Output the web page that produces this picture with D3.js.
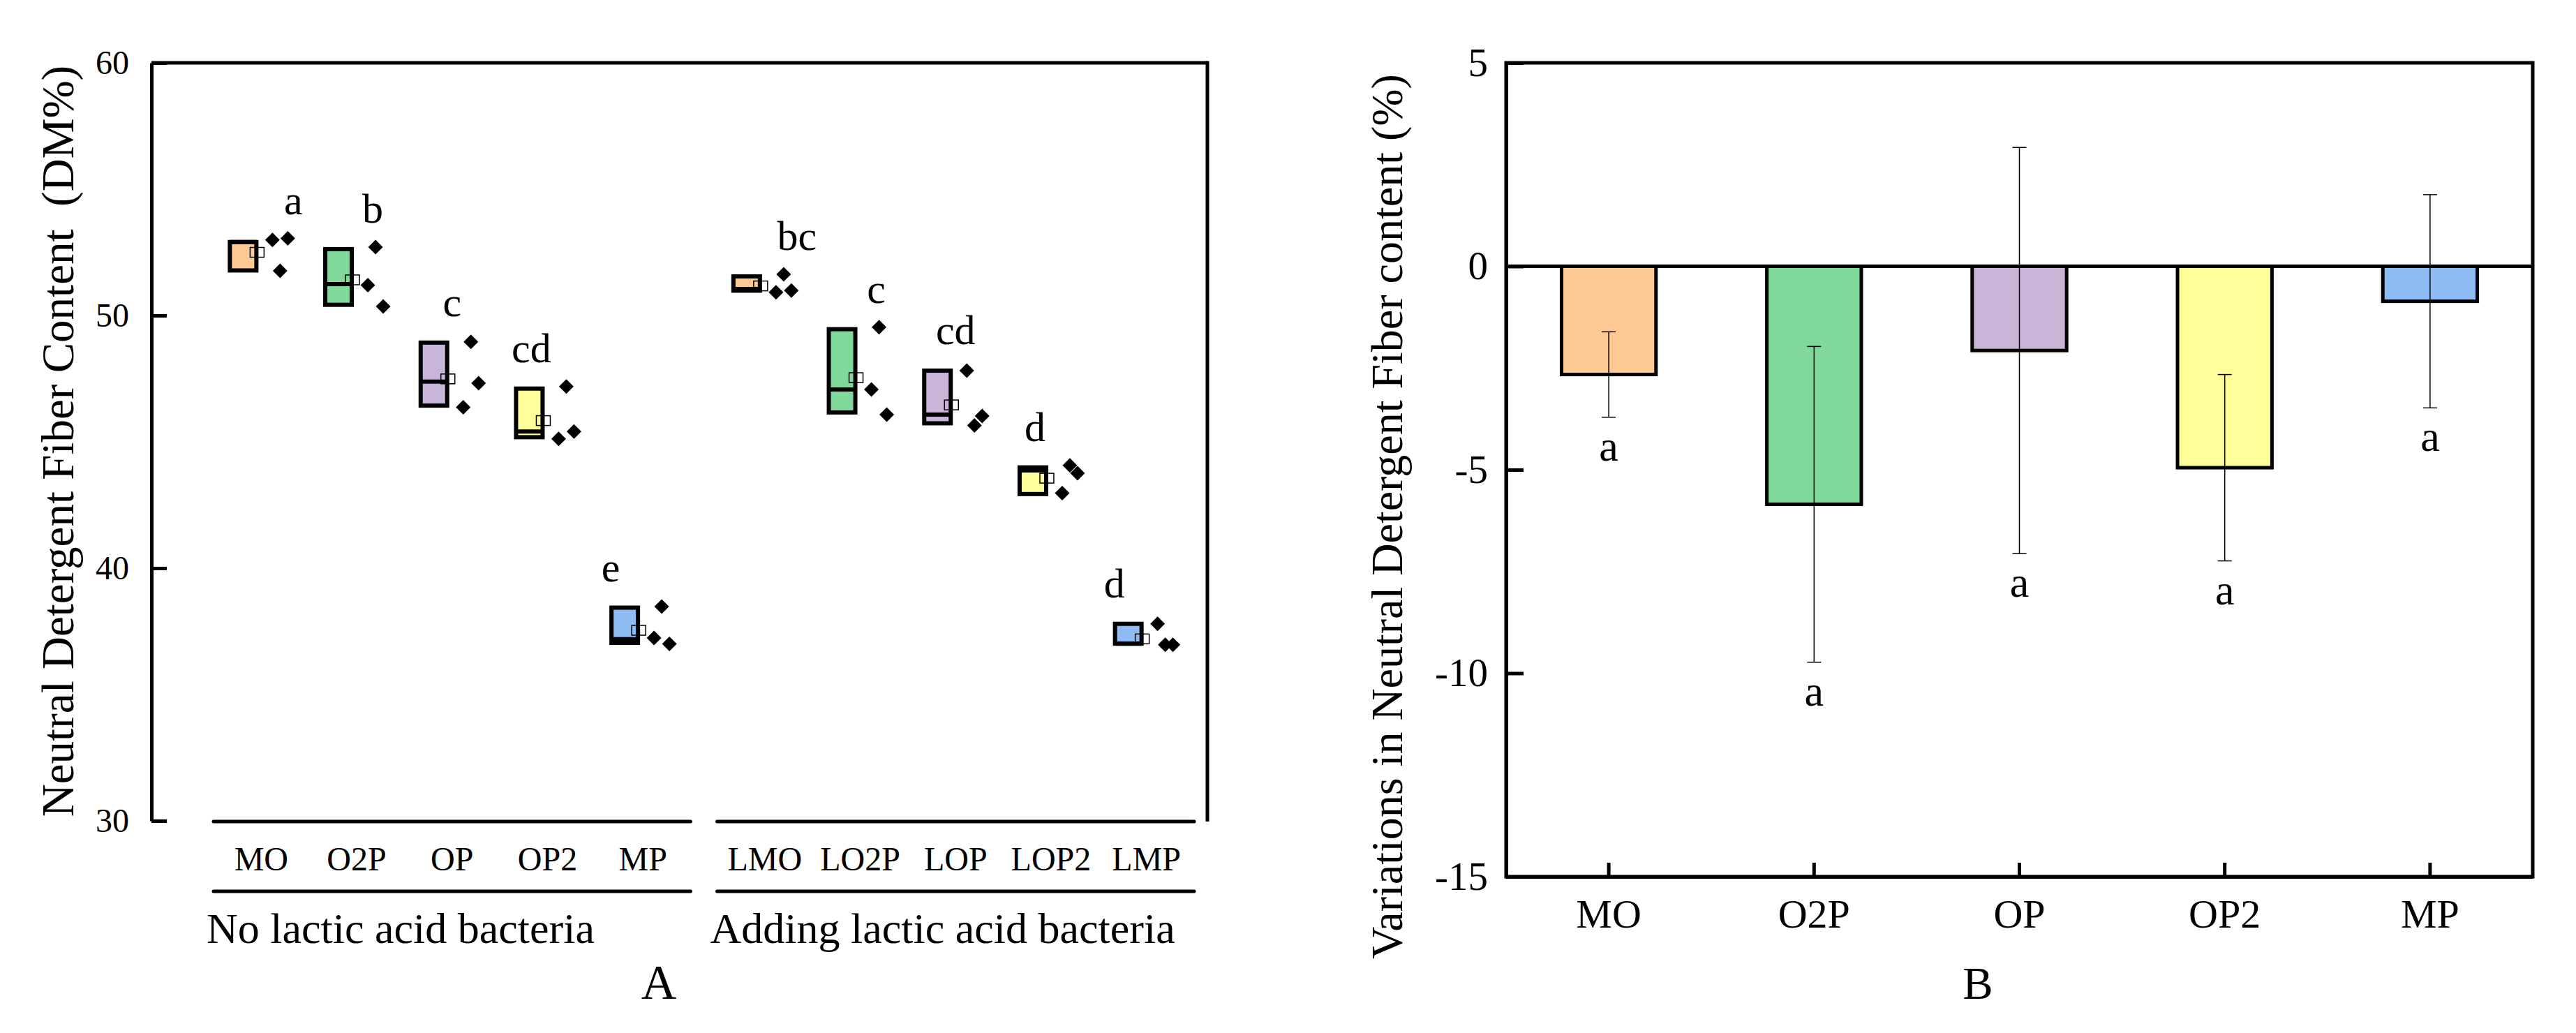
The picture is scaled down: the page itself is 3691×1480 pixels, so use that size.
<!DOCTYPE html>
<html>
<head>
<meta charset="utf-8">
<script src="https://cdn.jsdelivr.net/npm/d3@7"></script>
<style>
  body { margin: 0; background: #fff; }
  text { font-family: 'Liberation Serif', 'Times New Roman', serif; fill: #000; }
</style>
</head>
<body>
<div id="chart"></div>
<script>
// ---------- data ----------
var groupNames  = ['No lactic acid bacteria', 'Adding lactic acid bacteria'];
var catsNo      = ['MO', 'O2P', 'OP', 'OP2', 'MP'];
var catsLab     = ['LMO', 'LO2P', 'LOP', 'LOP2', 'LMP'];
var treatColors = ['#FFC994', '#80D89A', '#C9B5D8', '#FFFF9A', '#8DBCF4'];

// panel A : box statistics (DM%), order = catsNo then catsLab
var boxQ1   = [51.70, 50.34, 46.35, 45.10, 36.96, 50.90, 46.08, 45.65, 42.85, 36.93];
var boxMed  = [52.99, 51.24, 47.38, 45.41, 37.19, 51.05, 47.07, 46.08, 43.87, 36.95];
var boxQ3   = [52.99, 52.71, 49.01, 47.19, 38.52, 51.63, 49.54, 47.90, 44.07, 37.88];
var boxMean = [52.50, 51.41, 47.49, 45.84, 37.54, 51.17, 47.54, 46.46, 43.56, 37.20];
// replicate values, listed left to right as plotted beside each box
var rawPoints = [
    [52.99, 51.77, 53.05],
    [51.20, 52.71, 50.36],
    [46.37, 48.96, 47.32],
    [45.12, 47.19, 45.41],
    [37.24, 38.48, 37.00],
    [50.92, 51.63, 50.99],
    [47.07, 49.54, 46.08],
    [47.82, 45.65, 46.02],
    [42.97, 44.07, 43.76],
    [37.80, 36.97, 36.97]
];
var lettersA = ['a', 'b', 'c', 'cd', 'e', 'bc', 'c', 'cd', 'd', 'd'];
var yTicksA  = [30, 40, 50, 60];

// panel B : variation of NDF content (%)
var changeMean = [-2.66, -5.85, -2.07, -4.95, -0.86];
var changeSD   = [1.05, 3.88, 4.99, 2.29, 2.62];
var lettersB   = ['a', 'a', 'a', 'a', 'a'];
var yTicksB    = [5, 0, -5, -10, -15];

// ---------- svg ----------
var width  = 3691;
var height = 1480;

var svg = d3.select('#chart')
    .append('svg')
    .attr('width', width)
    .attr('height', height)
    .style('background', '#fff');

// ================= PANEL A =================
var a_left = 217, a_right = 1730, a_top = 90, a_bottom = 1176;

var yA = d3.scaleLinear()
    .domain([30, 60])
    .range([a_bottom, a_top]);

var xGroup = d3.scaleBand()
    .domain(groupNames)
    .range([306, 1711])
    .paddingInner(0.0527);

var catLists = [catsNo, catsLab];
var catScales = groupNames.map(function(g, gi){
    return d3.scaleBand()
        .domain(catLists[gi])
        .range([xGroup(g), xGroup(g) + xGroup.bandwidth()]);
});

function catX(i) {
    var gi = Math.floor(i / 5);
    var sc = catScales[gi];
    var name = catLists[gi][i % 5];
    return sc(name) + sc.bandwidth() / 2;
}

// frame top + right
svg.append('line')
    .attr('x1', a_left).attr('x2', a_right)
    .attr('y1', a_top).attr('y2', a_top)
    .attr('stroke', '#000').attr('stroke-width', 5);
svg.append('line')
    .attr('x1', a_right).attr('x2', a_right)
    .attr('y1', a_top - 2.5).attr('y2', a_bottom + 1)
    .attr('stroke', '#000').attr('stroke-width', 5);

// y axis
var yAxisA = d3.axisLeft(yA)
    .tickValues(yTicksA)
    .tickFormat(String)
    .tickSizeInner(-22)
    .tickSizeOuter(0)
    .tickPadding(32);

svg.append('g')
    .attr('class', 'y-axis-a')
    .attr('transform', 'translate(' + a_left + ',0)')
    .call(yAxisA)
    .call(g => g.select('.domain').attr('stroke-width', 5))
    .call(g => g.selectAll('.tick line').attr('stroke-width', 5))
    .call(g => g.selectAll('.tick text')
        .style('font-family', "'Liberation Serif', serif")
        .style('font-size', '48px'));

// group lines, category labels and group labels
groupNames.forEach(function(g, gi){
    var x0 = xGroup(g), x1 = xGroup(g) + xGroup.bandwidth();
    [1177, 1277].forEach(function(yy){
        svg.append('line')
            .attr('x1', x0).attr('x2', x1)
            .attr('y1', yy).attr('y2', yy)
            .attr('stroke', '#000')
            .attr('stroke-width', 5)
            .attr('stroke-linecap', 'round');
    });

    svg.append('g')
        .attr('transform', 'translate(0,1177)')
        .call(d3.axisBottom(catScales[gi]).tickSize(0).tickPadding(36))
        .call(g => g.select('.domain').remove())
        .call(g => g.selectAll('.tick text')
            .style('font-family', "'Liberation Serif', serif")
            .style('font-size', '48px'));

    svg.append('text')
        .attr('x', x0 - 10)
        .attr('y', 1351)
        .style('font-size', '62px')
        .text(g);
});

// boxes
var boxData = boxQ1.map(function(q1, i){
    return {
        i: i,
        q1: q1, med: boxMed[i], q3: boxQ3[i], mean: boxMean[i],
        pts: rawPoints[i],
        color: treatColors[i % 5],
        letter: lettersA[i]
    };
});

var boxW = 44, boxShift = -26, bs = 6;

var boxes = svg.append('g').attr('class', 'boxes')
    .selectAll('g')
    .data(boxData)
    .enter()
    .append('g');

boxes.append('rect')
    .attr('x', d => catX(d.i) + boxShift - boxW / 2 + bs / 2)
    .attr('width', boxW - bs)
    .attr('y', d => yA(d.q3) + bs / 2)
    .attr('height', d => yA(d.q1) - yA(d.q3) - bs)
    .attr('fill', d => d.color)
    .attr('stroke', '#000')
    .attr('stroke-width', bs);

boxes.append('line')
    .attr('x1', d => catX(d.i) + boxShift - boxW / 2 + bs / 2)
    .attr('x2', d => catX(d.i) + boxShift + boxW / 2 - bs / 2)
    .attr('y1', d => Math.min(Math.max(yA(d.med), yA(d.q3) + bs / 2), yA(d.q1) - bs / 2))
    .attr('y2', d => Math.min(Math.max(yA(d.med), yA(d.q3) + bs / 2), yA(d.q1) - bs / 2))
    .attr('stroke', '#000')
    .attr('stroke-width', bs);

// mean marker (open square)
boxes.append('rect')
    .attr('x', d => catX(d.i) + boxShift + 20 - 10)
    .attr('y', d => yA(d.mean) - 7)
    .attr('width', 20)
    .attr('height', 14)
    .attr('fill', 'none')
    .attr('stroke', '#000')
    .attr('stroke-width', 1.5);

// replicate points (diamonds)
var diamond = d3.symbol().type(d3.symbolSquare).size(220);
boxes.selectAll('path')
    .data(d => d.pts.map(function(v, k){ return {i: d.i, k: k, v: v}; }))
    .enter()
    .append('path')
    .attr('d', diamond)
    .attr('transform', d => 'translate(' + (catX(d.i) + boxShift + 42 + d.k * 11) + ',' + yA(d.v) + ') rotate(45)')
    .attr('fill', '#000');

// significance letters
boxes.append('text')
    .attr('x', d => catX(d.i) + (2 - d.i % 5) * 23)
    .attr('y', d => yA(Math.max(d.q3, d3.max(d.pts))) - 35)
    .attr('text-anchor', 'middle')
    .style('font-size', '60px')
    .text(d => d.letter);

// y label A
svg.append('text')
    .attr('transform', 'translate(105,632) rotate(-90)')
    .attr('text-anchor', 'middle')
    .style('font-size', '65px')
    .style('white-space', 'pre')
    .text('Neutral Detergent Fiber Content  (DM%)');

svg.append('text')
    .attr('x', 944).attr('y', 1431)
    .attr('text-anchor', 'middle')
    .style('font-size', '70px')
    .text('A');

// ================= PANEL B =================
var b_left = 2158, b_right = 3629, b_top = 90, b_bottom = 1256;

var xB = d3.scaleBand()
    .domain(catsNo)
    .range([b_left, b_right])
    .paddingInner(0.54)
    .paddingOuter(0.27);

var yB = d3.scaleLinear()
    .domain([-15, 5])
    .range([b_bottom, b_top]);

var barData = catsNo.map(function(c, i){
    return { cat: c, mean: changeMean[i], sd: changeSD[i], color: treatColors[i], letter: lettersB[i] };
});

// bars
svg.append('g').attr('class', 'bars')
    .selectAll('rect')
    .data(barData)
    .enter()
    .append('rect')
    .attr('x', d => xB(d.cat))
    .attr('width', xB.bandwidth())
    .attr('y', d => yB(Math.max(0, d.mean)))
    .attr('height', d => Math.abs(yB(d.mean) - yB(0)))
    .attr('fill', d => d.color)
    .attr('stroke', '#000')
    .attr('stroke-width', 5);

// zero line
svg.append('line')
    .attr('x1', b_left).attr('x2', b_right)
    .attr('y1', yB(0)).attr('y2', yB(0))
    .attr('stroke', '#000').attr('stroke-width', 5);

// frame
svg.append('rect')
    .attr('x', b_left).attr('y', b_top)
    .attr('width', b_right - b_left)
    .attr('height', b_bottom - b_top)
    .attr('fill', 'none')
    .attr('stroke', '#000')
    .attr('stroke-width', 5);

// axes
svg.append('g')
    .attr('transform', 'translate(' + b_left + ',0)')
    .call(d3.axisLeft(yB).tickValues(yTicksB).tickFormat(String)
        .tickSizeInner(-25).tickSizeOuter(0).tickPadding(26))
    .call(g => g.select('.domain').attr('stroke-width', 5))
    .call(g => g.selectAll('.tick line').attr('stroke-width', 5))
    .call(g => g.selectAll('.tick text')
        .style('font-family', "'Liberation Serif', serif")
        .style('font-size', '57px'));

svg.append('g')
    .attr('transform', 'translate(0,' + b_bottom + ')')
    .call(d3.axisBottom(xB).tickSizeInner(-20).tickSizeOuter(0).tickPadding(32))
    .call(g => g.select('.domain').attr('stroke-width', 5))
    .call(g => g.selectAll('.tick line').attr('stroke-width', 5))
    .call(g => g.selectAll('.tick text')
        .style('font-family', "'Liberation Serif', serif")
        .style('font-size', '58px'));

// error bars
var errs = svg.append('g').attr('class', 'errs')
    .selectAll('g')
    .data(barData)
    .enter()
    .append('g');

errs.append('line')
    .attr('x1', d => xB(d.cat) + xB.bandwidth() / 2)
    .attr('x2', d => xB(d.cat) + xB.bandwidth() / 2)
    .attr('y1', d => yB(d.mean + d.sd))
    .attr('y2', d => yB(d.mean - d.sd))
    .attr('stroke', '#000').attr('stroke-width', 1.5);

[1, -1].forEach(function(s){
    errs.append('line')
        .attr('x1', d => xB(d.cat) + xB.bandwidth() / 2 - 10)
        .attr('x2', d => xB(d.cat) + xB.bandwidth() / 2 + 10)
        .attr('y1', d => yB(d.mean + s * d.sd))
        .attr('y2', d => yB(d.mean + s * d.sd))
        .attr('stroke', '#000').attr('stroke-width', 1.5);
});

errs.append('text')
    .attr('x', d => xB(d.cat) + xB.bandwidth() / 2)
    .attr('y', d => yB(d.mean - d.sd) + 62)
    .attr('text-anchor', 'middle')
    .style('font-size', '62px')
    .text(d => d.letter);

// y label B
svg.append('text')
    .attr('transform', 'translate(2009,740) rotate(-90)')
    .attr('text-anchor', 'middle')
    .style('font-size', '64px')
    .text('Variations in Neutral Detergent Fiber content (%)');

svg.append('text')
    .attr('x', 2834).attr('y', 1431)
    .attr('text-anchor', 'middle')
    .style('font-size', '65px')
    .text('B');
</script>
</body>
</html>
